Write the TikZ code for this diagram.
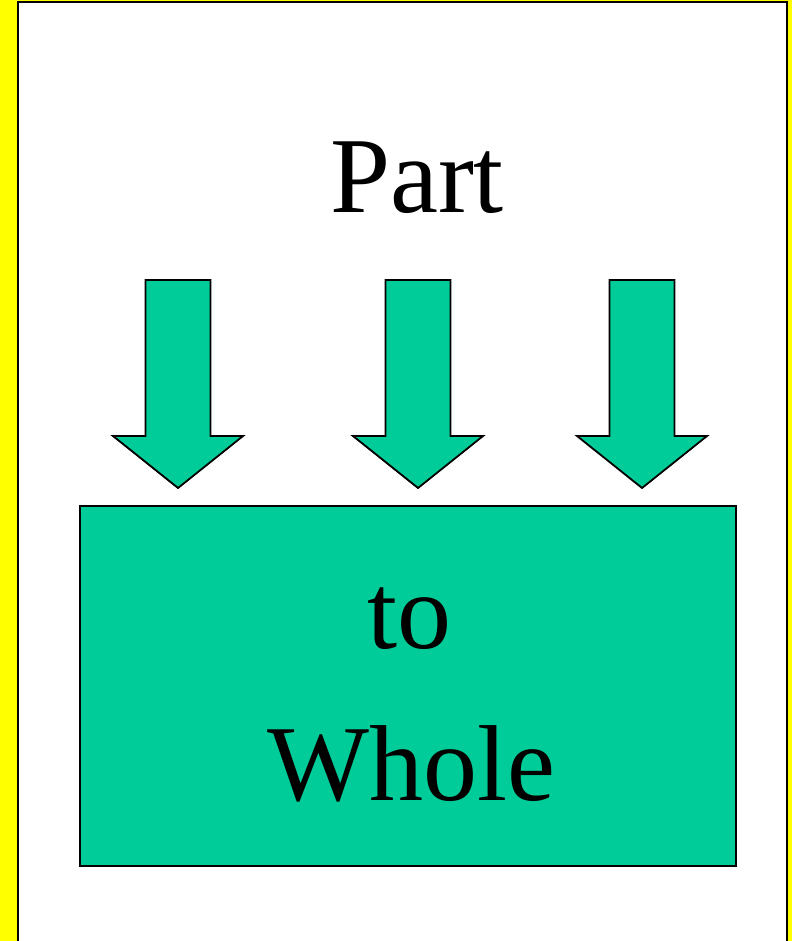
\documentclass[tikz,border=0pt]{standalone}
\usepackage{fontspec}
\setmainfont{Liberation Serif}
\definecolor{teal}{HTML}{00CC99}
\definecolor{bgyellow}{HTML}{FFFF00}
\tikzset{
  shapefill/.style={fill=teal, draw=black, line width=1.8pt, line join=miter},
  bigtext/.style={font=\fontsize{108}{108}\selectfont, inner sep=0pt},
  pics/blockarrow/.style={code={
    \draw[shapefill] (-32.5,0) -- (32.5,0) -- (32.5,156) -- (65,156) -- (0,208) -- (-65,156) -- (-32.5,156) -- cycle;
  }}
}
\begin{document}
\begin{tikzpicture}[x=1pt,y=-1pt]
\useasboundingbox (0,0) rectangle (792,941);
\fill[bgyellow] (0,0) rectangle (792,941);
\fill[white] (17.5,2.5) rectangle (787,945);
\draw[line width=2pt] (17.5,945) -- (17.5,2.5) -- (787,2.5) -- (787,945);
\node[bigtext, anchor=base] (part) at (417,213) {Part};
\pic (a1) at (178,280) {blockarrow};
\pic (a2) at (418,280) {blockarrow};
\pic (a3) at (642,280) {blockarrow};
\draw[shapefill] (80,506) rectangle (736,866);
\node[bigtext, anchor=base] (to) at (409,648) {to};
\node[bigtext, anchor=base] (whole) at (411,800) {Whole};
\end{tikzpicture}
\end{document}
